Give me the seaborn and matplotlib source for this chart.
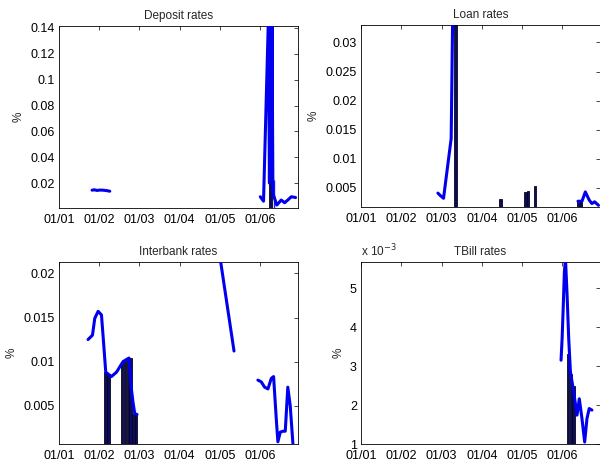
import numpy as np
import pandas as pd
import seaborn as sns
import matplotlib.pyplot as plt
from matplotlib.ticker import FuncFormatter

# x axis is in days from 01/01 (ticks every 30 days, one per month label)
month_ticks = [0, 30, 60, 90, 120, 150]
month_labels = ['01/01', '01/02', '01/03', '01/04', '01/05', '01/06']

# Deposit rates
dep_seg = [1, 1, 1, 1, 1, 1, 1,
           2, 2, 2, 2, 2, 2, 2, 2, 2, 2, 2, 2, 2, 2, 2]
dep_day = [24.8, 26.5, 28.5, 30.5, 33.0, 35.5, 38.0,
           150.2, 152.6, 156.3, 157.0, 157.7, 158.3, 158.9, 159.6, 162.5, 165.8, 168.3, 170.7,
           173.3, 175.7, 176.5]
dep_rate = [0.0145, 0.0148, 0.0143, 0.0146, 0.0145, 0.0142, 0.0137,
            0.0094, 0.0060, 0.1500, 0.0200, 0.1500, 0.0300, 0.1500, 0.0120, 0.0030, 0.0069,
            0.0048, 0.0069, 0.0094, 0.0090, 0.0088]
dep_bar_day = [158.0]
dep_bar_h = [0.1500]
dep_thin_day = [160.3]
dep_thin_h = [0.0220]

# Loan rates
loan_seg = [1, 1, 1, 1, 1, 1,
            2, 2, 2, 2, 2, 2, 2]
loan_day = [57.3, 59.0, 61.5, 67.2, 68.6, 69.6,
            161.7, 164.7, 167.2, 170.1, 172.1, 174.1, 177.0]
loan_rate = [0.0041, 0.0037, 0.0032, 0.0135, 0.0400, 0.0400,
             0.0027, 0.0027, 0.0043, 0.0029, 0.0023, 0.0026, 0.0020]
loan_bar_day = [70.3, 104.2, 122.4, 124.4, 129.6, 161.9, 163.9]
loan_bar_h = [0.0400, 0.0030, 0.0043, 0.0045, 0.0054, 0.0027, 0.0027]

# Interbank rates
ib_seg = [1] * 15 + [2] * 2 + [3] * 14
ib_day = [21.8, 25.1, 26.8, 29.3, 31.8, 33.5, 35.0, 39.2, 43.0, 47.9, 52.3, 54.1, 55.3, 56.6, 58.3,
          119.5, 130.6,
          148.4, 150.9, 153.4, 155.9, 158.4, 160.1, 162.1, 163.3, 165.1, 167.0, 168.8, 170.7, 172.5, 174.5]
ib_rate = [0.0125, 0.0130, 0.0149, 0.0157, 0.0153, 0.0119, 0.0088, 0.0083, 0.0088, 0.0100, 0.0104,
           0.0069, 0.0054, 0.0041, 0.0040,
           0.0225, 0.0112,
           0.0079, 0.0077, 0.0071, 0.0069, 0.0081, 0.0083, 0.0035, 0.0009, 0.0020, 0.0021, 0.0021,
           0.0071, 0.0050, 0.0007]
ib_bar_day = [34.6, 37.0, 47.2, 49.4, 51.5, 53.4, 55.5, 57.6]
ib_bar_h = [0.0088, 0.0086, 0.0099, 0.0101, 0.0103, 0.0104, 0.0041, 0.0040]

# TBill rates
tb_seg = [1] * 16
tb_day = [149.1, 149.9, 150.6, 151.6, 152.4, 153.6, 154.8, 156.1, 158.5, 161.0, 162.7, 164.7,
          166.7, 168.4, 170.1, 172.1]
tb_rate = [0.00315, 0.00371, 0.00439, 0.00542, 0.00575, 0.00482, 0.00371, 0.00285, 0.00234, 0.00174,
           0.00216, 0.00165, 0.00105, 0.00165, 0.00191, 0.00187]
tb_bar_day = [154.3, 156.4, 158.4]
tb_bar_h = [0.0033, 0.0028, 0.0025]

panels = [
    ('Deposit rates', dep_seg, dep_day, dep_rate, dep_bar_day, dep_bar_h,
     (0.0007, 0.1415), [0.02, 0.04, 0.06, 0.08, 0.1, 0.12, 0.14], 1.0),
    ('Loan rates', loan_seg, loan_day, loan_rate, loan_bar_day, loan_bar_h,
     (0.0017, 0.033), [0.005, 0.01, 0.015, 0.02, 0.025, 0.03], 1.0),
    ('Interbank rates', ib_seg, ib_day, ib_rate, ib_bar_day, ib_bar_h,
     (0.00065, 0.0213), [0.005, 0.01, 0.015, 0.02], 1.0),
    ('TBill rates', tb_seg, tb_day, tb_rate, tb_bar_day, tb_bar_h,
     (0.001, 0.00567), [0.001, 0.002, 0.003, 0.004, 0.005], 1000.0),
]

sns.set_style("white")
plt.rcParams['font.family'] = ['Liberation Sans', 'DejaVu Sans']
plt.rcParams['font.size'] = 8.5

fig = plt.figure(figsize=(6, 4.66), dpi=100)
positions = [
    [0.098, 0.5536, 0.398, 0.3906],
    [0.6017, 0.5557, 0.398, 0.3906],
    [0.098, 0.0472, 0.398, 0.3906],
    [0.6017, 0.0472, 0.398, 0.3906],
]

axes = []
for pos, (title, seg, day, rate, bday, bh, ylim, yticks, scale) in zip(positions, panels):
    ax = fig.add_axes(pos)
    axes.append(ax)
    ax.bar(bday, bh, width=2.0, color='#0c0c5a', edgecolor='#04041c', linewidth=0.6, zorder=2)
    df = pd.DataFrame({'seg': seg, 'day': day, 'rate': rate})
    sns.lineplot(data=df, x='day', y='rate', units='seg', estimator=None, sort=False,
                 color='#0000ee', linewidth=2.2, ax=ax, zorder=3)
    ax.set_xlim(0, 178)
    ax.set_ylim(*ylim)
    ax.set_xticks(month_ticks)
    ax.set_xticklabels(month_labels)
    ax.set_yticks(yticks)
    ax.yaxis.set_major_formatter(FuncFormatter(lambda v, p, s=scale: '%g' % round(v * s, 6)))
    ax.set_title(title, fontsize=8.5, pad=5)
    ax.set_xlabel('')
    ax.set_ylabel('%')
    ax.tick_params(direction='in', length=3, width=0.5, top=True, right=True,
                   labelsize=9, colors='black')
    ax.tick_params(axis='x', pad=4.5)
    ax.tick_params(axis='y', pad=3)
    for sp in ax.spines.values():
        sp.set_visible(True)
        sp.set_color('black')
        sp.set_linewidth(0.6)
    if scale != 1.0:
        ax.text(0.0, 1.015, 'x 10$^{-3}$', transform=ax.transAxes, ha='left', va='bottom', fontsize=8.5)

# thin blue spike under the deposit peak
axes[0].vlines(dep_thin_day, 0, dep_thin_h, color='#2020ff', linewidth=1.0, zorder=2)

fig.savefig('out.png', dpi=100)
plt.close()
